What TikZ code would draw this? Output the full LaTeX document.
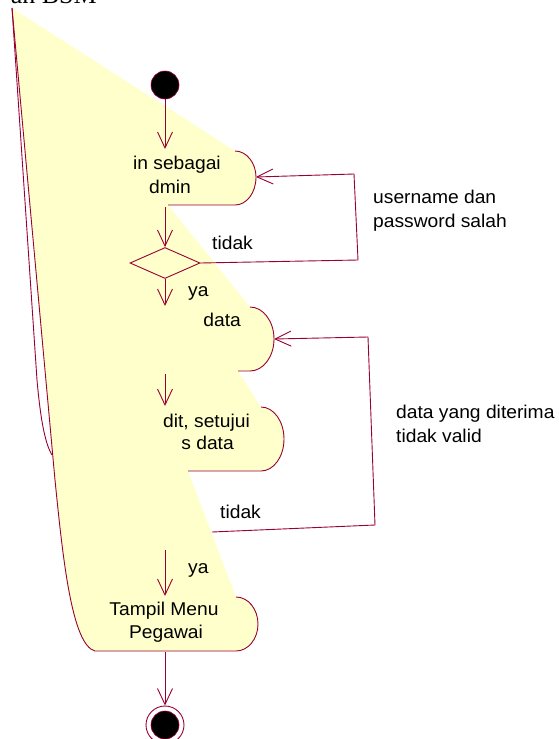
\documentclass[tikz,border=0pt]{standalone}
\usepackage{fontspec}
\setmainfont{Liberation Sans}[FakeStretch=1.04]
\newfontfamily\ttlfont{Liberation Serif}
\usetikzlibrary{arrows.meta,shapes.geometric}
\definecolor{rosered}{RGB}{153,0,51}
\definecolor{roseyel}{RGB}{255,255,204}
\begin{document}
\begin{tikzpicture}[x=1pt,y=-1pt,
  edge/.style={draw=rosered,line width=0.9pt},
  flow/.style={edge,-{Straight Barb[length=16pt,width=15pt,line width=0.9pt]}},
  lbl/.style={font=\fontsize{18.5}{22}\selectfont,inner sep=0pt,text=black}]
\useasboundingbox (0,0) rectangle (558,739);
\clip (0,0) rectangle (558,739);
\fill[white] (0,0) rectangle (558,739);

% key points
\coordinate (tl) at (12,8);
\coordinate (t1) at (235,151); \coordinate (r1) at (256,177); \coordinate (b1) at (235,205); \coordinate (e1) at (168,205);
\coordinate (t2) at (250,307); \coordinate (r2) at (274,339); \coordinate (b2) at (250,371); \coordinate (e2) at (238,371);
\coordinate (t3) at (261,407); \coordinate (r3) at (284,439); \coordinate (b3) at (261,471); \coordinate (e3) at (188,471);
\coordinate (t4) at (236,597); \coordinate (r4) at (258,624); \coordinate (b4) at (236,651); \coordinate (e4) at (95,651);
\coordinate (lk) at (55,480);

% yellow region
\fill[roseyel] (tl) -- (t1) .. controls (246.6,151) and (256,163.1) .. (r1)
  .. controls (256,192.9) and (246.6,205) .. (b1) -- (e1)
  -- (t2) .. controls (263.2,307) and (274,321.3) .. (r2)
  .. controls (274,356.7) and (263.2,371) .. (b2) -- (e2)
  -- (t3) .. controls (273.7,407) and (284,421.3) .. (r3)
  .. controls (284,456.7) and (273.7,471) .. (b3) -- (e3)
  -- (t4) .. controls (248.1,597) and (258,609.1) .. (r4)
  .. controls (258,638.9) and (248.1,651) .. (b4) -- (e4)
  .. controls (72,645) and (63,560) .. (lk) -- cycle;

% red outlines
\draw[edge] (t1) .. controls (246.6,151) and (256,163.1) .. (r1)
  .. controls (256,192.9) and (246.6,205) .. (b1) -- (e1);
\draw[edge] (t2) .. controls (263.2,307) and (274,321.3) .. (r2)
  .. controls (274,356.7) and (263.2,371) .. (b2) -- (e2);
\draw[edge] (t3) .. controls (273.7,407) and (284,421.3) .. (r3)
  .. controls (284,456.7) and (273.7,471) .. (b3) -- (e3);
\draw[edge] (t4) .. controls (248.1,597) and (258,609.1) .. (r4)
  .. controls (258,638.9) and (248.1,651) .. (b4) -- (e4)
  .. controls (72,645) and (63,560) .. (lk) -- (tl);
\coordinate (om) at (37,380); \coordinate (oj) at (52,455);
\draw[edge] (tl) -- (om) .. controls (41,425) and (46,445) .. (oj);

% title (cut off at the top, as in the reference)
\node[anchor=base east,inner sep=0pt,font=\ttlfont\fontsize{26}{30}\selectfont] (title) at (97,3.5) {an BSM};

% start / end / decision
\node[circle,fill=black,draw=rosered,line width=0.6pt,minimum size=28pt,inner sep=0pt] (start) at (165,85) {};
\node[circle,draw=rosered,fill=white,line width=0.9pt,minimum size=38pt,inner sep=0pt] (endo) at (165,725) {};
\node[circle,fill=black,draw=rosered,line width=0.6pt,minimum size=28pt,inner sep=0pt] (endi) at (165,725) {};
\node[diamond,draw=rosered,fill=roseyel,line width=0.9pt,minimum width=70pt,minimum height=31pt,inner sep=0pt] (dec) at (165,263) {};

% flow arrows
\coordinate (a1) at (165,149);
\coordinate (s2) at (165,207);
\coordinate (s3) at (165,279); \coordinate (a3) at (165,306);
\coordinate (s4) at (165,374); \coordinate (a4) at (165,406);
\coordinate (s5) at (165,550); \coordinate (a5) at (165,596);
\coordinate (s6) at (165,652);
\draw[flow] (start.south) -- (a1);
\draw[flow] (s2) -- (dec.north);
\draw[flow] (s3) -- (a3);
\draw[flow] (s4) -- (a4);
\draw[flow] (s5) -- (a5);
\draw[flow] (s6) -- (endo.north);

% loops
\coordinate (l1a) at (358,260); \coordinate (l1b) at (354,174);
\draw[flow] (dec.east) -- (l1a) -- (l1b) -- (r1);
\coordinate (l2s) at (212,532); \coordinate (l2a) at (375,525); \coordinate (l2b) at (368,337);
\draw[flow] (l2s) -- (l2a) -- (l2b) -- (r2);

% texts
\node[lbl,anchor=base east] (x1a) at (221,169) {in sebagai};
\node[lbl,anchor=base east] (x1b) at (191,193) {dmin};
\node[lbl,anchor=base east] (x2a) at (241,326) {data};
\node[lbl,anchor=base east] (x3a) at (250,427) {dit, setujui};
\node[lbl,anchor=base east] (x3b) at (234,449) {s data};
\node[lbl,anchor=base] (x4a) at (164,615) {Tampil Menu};
\node[lbl,anchor=base] (x4b) at (166,638) {Pegawai};
\node[lbl,anchor=base west] (ya1) at (188,296) {ya};
\node[lbl,anchor=base west] (ya2) at (188,573) {ya};
\node[lbl,anchor=base west] (td1) at (212,249) {tidak};
\node[lbl,anchor=base west] (td2) at (220,518) {tidak};
\node[lbl,anchor=base west] (u1) at (373,203) {username dan};
\node[lbl,anchor=base west] (u2) at (373,227) {password salah};
\node[lbl,anchor=base west] (v1) at (396,418) {data yang diterima};
\node[lbl,anchor=base west] (v2) at (396,442) {tidak valid};
\end{tikzpicture}
\end{document}
